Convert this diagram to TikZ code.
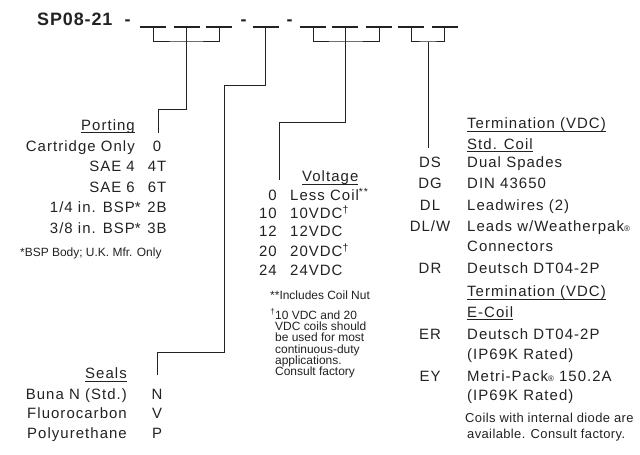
\documentclass[tikz,border=0pt]{standalone}
\usepackage{fontspec}
\setmainfont{Liberation Sans}
\newfontfamily\mainf[LetterSpace=7]{Liberation Sans}
\newfontfamily\notef[LetterSpace=0]{Liberation Sans}
\newfontfamily\smallf[LetterSpace=3]{Liberation Sans}
\newfontfamily\titlef[LetterSpace=5]{Liberation Sans}
\definecolor{ink}{HTML}{222222}
\newcommand\ulx[1]{\setbox0=\hbox{#1}\rlap{\rule[-3bp]{\wd0}{0.9bp}}\box0}
\tikzset{
  txt/.style={inner sep=0pt, text=ink, font=\mainf\fontsize{15}{18}\selectfont},
  lft/.style={txt, anchor=base west},
  rgt/.style={txt, anchor=base east},
  ctr/.style={txt, anchor=base},
  note/.style={inner sep=0pt, text=ink, font=\notef\fontsize{12}{14}\selectfont, anchor=base west},
  smallnote/.style={inner sep=0pt, text=ink, font=\smallf\fontsize{13}{15}\selectfont, anchor=base west},
  ttl/.style={inner sep=0pt, text=ink, font=\titlef\bfseries\fontsize{18}{20}\selectfont},
  wire/.style={draw=ink, line width=1bp},
  dashseg/.style={draw=ink, line width=1.2bp},
}
\begin{document}
\begin{tikzpicture}[x=1bp,y=-1bp]
\useasboundingbox (0,0) rectangle (640,455);
\fill[white] (0,0) rectangle (640,455);

% title
\node[ttl, anchor=base west] (title) at (37,26) {SP08-21};
\node[ttl, anchor=base] (h0) at (127.5,26) {-};
\node[ttl, anchor=base] (h1) at (243.5,26) {-};
\node[ttl, anchor=base] (h2) at (289.5,26) {-};

% dash segments (centres)
\foreach \n/\x in {1/153,2/186.5,3/219,4/265.5,5/313,6/345,7/379,8/411,9/444.5}{
  \coordinate (d\n) at (\x,27);
  \draw[dashseg] (d\n) +(-13,0) -- +(13,0);
}

% group 1 : porting
\coordinate (b1) at (186.5,42);
\coordinate (p1) at (186.5,110);
\coordinate (pe) at (158,133);
\draw[wire] (d1) |- (b1) -| (d3);
\draw[wire] (d2) -- (p1) -| (pe);

% group 2 : seals
\coordinate (s1) at (265.5,86);
\coordinate (s2) at (224,352);
\coordinate (se) at (157,375);
\draw[wire] (d4) -- (s1) -| (s2) -| (se);

% group 3 : voltage
\coordinate (b3) at (345,42);
\coordinate (v1) at (345,123);
\coordinate (ve) at (279,180);
\draw[wire] (d5) |- (b3) -| (d7);
\draw[wire] (d6) -- (v1) -| (ve);

% group 4 : termination
\coordinate (b4) at (428,42);
\coordinate (te) at (428,148);
\draw[wire] (d8) |- (b4) -| (d9);
\draw[wire] (b4) -- (te);

% porting
\node[rgt] (porth) at (135,130.4) {\ulx{Porting}};
\node[rgt] (pl1) at (135,151.4) {Cartridge Only};
\node[ctr] (pc1) at (157,151.4) {0};
\node[rgt] (pl2) at (135,172) {SAE 4};
\node[ctr] (pc2) at (157,172) {4T};
\node[rgt] (pl3) at (135,192.4) {SAE 6};
\node[ctr] (pc3) at (157,192.4) {6T};
\node[rgt] (pl4) at (135,213) {1/4 in. BSP\rlap{*}};
\node[ctr] (pc4) at (157,213) {2B};
\node[rgt] (pl5) at (135,233.4) {3/8 in. BSP\rlap{*}};
\node[ctr] (pc5) at (157,233.4) {3B};
\node[note] (pnote) at (20,256.3) {*BSP Body; U.K. Mfr. Only};

% seals
\node[rgt] (sealh) at (127,378.5) {\ulx{Seals}};
\node[rgt] (sl1) at (127,399.4) {Buna N (Std.)};
\node[ctr] (sc1) at (157,399.4) {N};
\node[rgt] (sl2) at (127,418.6) {Fluorocarbon};
\node[ctr] (sc2) at (157,418.6) {V};
\node[rgt] (sl3) at (127,438.4) {Polyurethane};
\node[ctr] (sc3) at (157,438.4) {P};

% voltage
\node[lft] (volth) at (302,181.5) {\ulx{Voltage}};
\node[rgt] (vc1) at (277,200.4) {0};
\node[lft] (vl1) at (290,200.4) {Less Coil\textsuperscript{**}};
\node[rgt] (vc2) at (277,218.6) {10};
\node[lft] (vl2) at (290,218.6) {10VDC\textsuperscript{†}};
\node[rgt] (vc3) at (277,237) {12};
\node[lft] (vl3) at (290,237) {12VDC};
\node[rgt] (vc4) at (277,256.4) {20};
\node[lft] (vl4) at (290,256.4) {20VDC\textsuperscript{†}};
\node[rgt] (vc5) at (277,275.8) {24};
\node[lft] (vl5) at (290,275.8) {24VDC};
\node[note] (vn0) at (270,299.5) {**Includes Coil Nut};
\node[note] (vn1) at (275,319.3) {\llap{\textsuperscript{†}}10 VDC and 20};
\node[note] (vn2) at (275,330.6) {VDC coils should};
\node[note] (vn3) at (275,341.9) {be used for most};
\node[note] (vn4) at (275,353.2) {continuous-duty};
\node[note] (vn5) at (275,364.5) {applications.};
\node[note] (vn6) at (275,375.8) {Consult factory};

% termination
\node[lft] (th1) at (467,128.9) {\ulx{Termination (VDC)}};
\node[lft] (th2) at (467,149.4) {\ulx{Std. Coil}};
\node[ctr] (tc1) at (430,167.4) {DS};
\node[lft] (tl1) at (467,167.4) {Dual Spades};
\node[ctr] (tc2) at (430,188.9) {DG};
\node[lft] (tl2) at (467,188.9) {DIN 43650};
\node[ctr] (tc3) at (430,210.4) {DL};
\node[lft] (tl3) at (467,210.4) {Leadwires (2)};
\node[ctr] (tc4) at (430,231.4) {DL/W};
\node[lft] (tl4) at (467,231.4) {Leads w/Weatherpak{\fontsize{8}{9}\selectfont ®}};
\node[lft] (tl5) at (467,251.9) {Connectors};
\node[ctr] (tc6) at (430,273.4) {DR};
\node[lft] (tl6) at (467,273.4) {Deutsch DT04-2P};
\node[lft] (th3) at (467,296.9) {\ulx{Termination (VDC)}};
\node[lft] (th4) at (467,317.4) {\ulx{E-Coil}};
\node[ctr] (tc7) at (430,339.4) {ER};
\node[lft] (tl7) at (467,339.4) {Deutsch DT04-2P};
\node[lft] (tl8) at (467,359.9) {(IP69K Rated)};
\node[ctr] (tc9) at (430,381.4) {EY};
\node[lft] (tl9) at (467,381.4) {Metri-Pack{\fontsize{8}{9}\selectfont ®} 150.2A};
\node[lft] (tl10) at (467,400.9) {(IP69K Rated)};
\node[smallnote] (tn1) at (465,422.2) {Coils with internal diode are};
\node[smallnote] (tn2) at (467,438.4) {available. Consult factory.};
\end{tikzpicture}
\end{document}
